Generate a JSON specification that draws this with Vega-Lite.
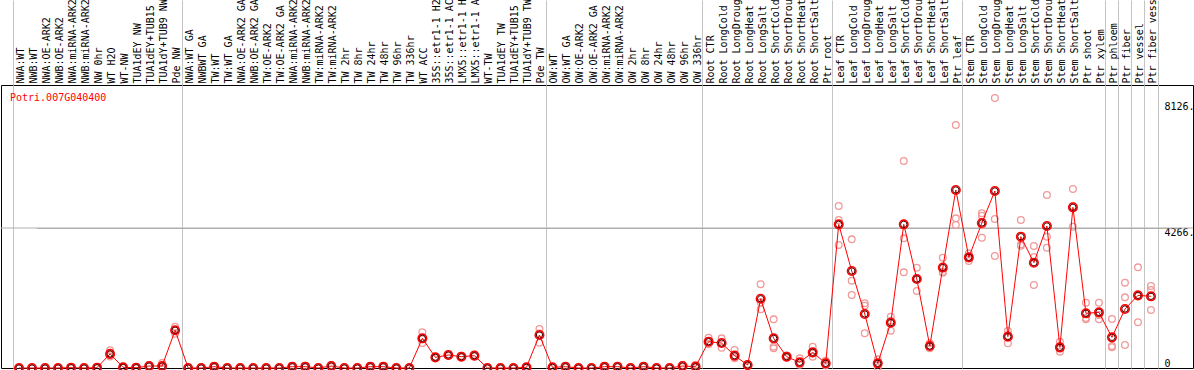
{
  "$schema": "https://vega.github.io/schema/vega-lite/v6.json",
  "width": 1192,
  "height": 283,
  "autosize": "none",
  "padding": {"left": 1, "top": 85, "right": 1, "bottom": 2},
  "background": "white",
  "title": {"text": "Potri.007G040400", "anchor": "start", "frame": "group", "color": "red", "font": "DejaVu Sans Mono", "fontSize": 10, "fontWeight": "normal", "baseline": "top", "offset": 0, "dx": 9, "dy": 104},
  "config": {"view": {"stroke": "black", "strokeWidth": 1}, "font": "DejaVu Sans Mono"},
  "datasets": {
    "means": [
      {"sample": "NWA:WT", "value": 0}, {"sample": "NWB:WT", "value": 0}, {"sample": "NWA:OE-ARK2", "value": 0}, {"sample": "NWB:OE-ARK2", "value": 0},
      {"sample": "NWA:miRNA-ARK2", "value": 10}, {"sample": "NWB:miRNA-ARK2", "value": 0}, {"sample": "NW 0hr", "value": 10}, {"sample": "WT H2O", "value": 430},
      {"sample": "WT-NW", "value": 20}, {"sample": "TUA1dEY NW", "value": 10}, {"sample": "TUA1dEY+TUB15 NW", "value": 60}, {"sample": "TUA1dY+TUB9 NW", "value": 60},
      {"sample": "Pde NW", "value": 1150}, {"sample": "NWA:WT GA", "value": 0}, {"sample": "NWBWT GA", "value": 0}, {"sample": "TW:WT", "value": 40},
      {"sample": "TW:WT GA", "value": 0}, {"sample": "NWA:OE-ARK2 GA", "value": 0}, {"sample": "NWB:OE-ARK2 GA", "value": 0}, {"sample": "TW:OE-ARK2", "value": 0},
      {"sample": "TW:OE-ARK2 GA", "value": 0}, {"sample": "NWA:miRNA-ARK2 GA", "value": 40}, {"sample": "NWB:miRNA-ARK2 GA", "value": 40}, {"sample": "TW:miRNA-ARK2", "value": 0},
      {"sample": "TW:miRNA-ARK2 GA", "value": 60}, {"sample": "TW 2hr", "value": 0}, {"sample": "TW 8hr", "value": 0}, {"sample": "TW 24hr", "value": 40},
      {"sample": "TW 48hr", "value": 40}, {"sample": "TW 96hr", "value": 0}, {"sample": "TW 336hr", "value": 0}, {"sample": "WT ACC", "value": 904},
      {"sample": "35S::etr1-1 H2O", "value": 325}, {"sample": "35S::etr1-1 ACC", "value": 396}, {"sample": "LMX5::etr1-1 H2O", "value": 345}, {"sample": "LMX5::etr1-1 ACC", "value": 376},
      {"sample": "WT-TW", "value": 0}, {"sample": "TUA1dEY TW", "value": 0}, {"sample": "TUA1dEY+TUB15 TW", "value": 0}, {"sample": "TUA1dY+TUB9 TW", "value": 20},
      {"sample": "Pde TW", "value": 1005}, {"sample": "OW:WT", "value": 20}, {"sample": "OW:WT GA", "value": 40}, {"sample": "OW:OE-ARK2", "value": 0},
      {"sample": "OW:OE-ARK2 GA", "value": 0}, {"sample": "OW:miRNA-ARK2", "value": 40}, {"sample": "OW:miRNA-ARK2 GA", "value": 40}, {"sample": "OW 2hr", "value": 0},
      {"sample": "OW 8hr", "value": 40}, {"sample": "OW 24hr", "value": 0}, {"sample": "OW 48hr", "value": 0}, {"sample": "OW 96hr", "value": 60},
      {"sample": "OW 336hr", "value": 40}, {"sample": "Root CTR", "value": 802}, {"sample": "Root LongCold", "value": 760}, {"sample": "Root LongDrought", "value": 376},
      {"sample": "Root LongHeat", "value": 91}, {"sample": "Root LongSalt", "value": 2110}, {"sample": "Root ShortCold", "value": 904}, {"sample": "Root ShortDrought", "value": 345},
      {"sample": "Root ShortHeat", "value": 173}, {"sample": "Root ShortSalt", "value": 477}, {"sample": "Ptr root", "value": 142}, {"sample": "Leaf CTR", "value": 4377},
      {"sample": "Leaf LongCold", "value": 2956}, {"sample": "Leaf LongDrought", "value": 1645}, {"sample": "Leaf LongHeat", "value": 142}, {"sample": "Leaf LongSalt", "value": 1381},
      {"sample": "Leaf ShortCold", "value": 4377}, {"sample": "Leaf ShortDrought", "value": 2712}, {"sample": "Leaf ShortHeat", "value": 670}, {"sample": "Leaf ShortSalt", "value": 3060},
      {"sample": "Ptr leaf", "value": 5424}, {"sample": "Stem CTR", "value": 3372}, {"sample": "Stem LongCold", "value": 4418}, {"sample": "Stem LongDrought", "value": 5393},
      {"sample": "Stem LongHeat", "value": 955}, {"sample": "Stem LongSalt", "value": 4001}, {"sample": "Stem ShortCold", "value": 3209}, {"sample": "Stem ShortDrought", "value": 4327},
      {"sample": "Stem ShortHeat", "value": 630}, {"sample": "Stem ShortSalt", "value": 4896}, {"sample": "Ptr shoot", "value": 1666}, {"sample": "Ptr xylem", "value": 1696},
      {"sample": "Ptr phloem", "value": 934}, {"sample": "Ptr fiber", "value": 1798}, {"sample": "Ptr vessel", "value": 2214}, {"sample": "Ptr fiber vessel", "value": 2184}
    ],
    "reps": [
      {"sample": "NWA:WT", "value": 0}, {"sample": "NWA:WT", "value": 0}, {"sample": "NWA:WT", "value": 0},
      {"sample": "NWB:WT", "value": 0}, {"sample": "NWB:WT", "value": 0}, {"sample": "NWB:WT", "value": 0},
      {"sample": "NWA:OE-ARK2", "value": 0}, {"sample": "NWA:OE-ARK2", "value": 0}, {"sample": "NWA:OE-ARK2", "value": 0},
      {"sample": "NWB:OE-ARK2", "value": 0}, {"sample": "NWB:OE-ARK2", "value": 10}, {"sample": "NWB:OE-ARK2", "value": 0},
      {"sample": "NWA:miRNA-ARK2", "value": 10}, {"sample": "NWA:miRNA-ARK2", "value": 20}, {"sample": "NWA:miRNA-ARK2", "value": 0},
      {"sample": "NWB:miRNA-ARK2", "value": 0}, {"sample": "NWB:miRNA-ARK2", "value": 0}, {"sample": "NWB:miRNA-ARK2", "value": 10},
      {"sample": "NW 0hr", "value": 10}, {"sample": "NW 0hr", "value": 0}, {"sample": "NW 0hr", "value": 20},
      {"sample": "WT H2O", "value": 540}, {"sample": "WT H2O", "value": 400}, {"sample": "WT H2O", "value": 350},
      {"sample": "WT-NW", "value": 20}, {"sample": "WT-NW", "value": 30}, {"sample": "WT-NW", "value": 10},
      {"sample": "TUA1dEY NW", "value": 10}, {"sample": "TUA1dEY NW", "value": 20}, {"sample": "TUA1dEY NW", "value": 0},
      {"sample": "TUA1dEY+TUB15 NW", "value": 60}, {"sample": "TUA1dEY+TUB15 NW", "value": 80}, {"sample": "TUA1dEY+TUB15 NW", "value": 40},
      {"sample": "TUA1dY+TUB9 NW", "value": 60}, {"sample": "TUA1dY+TUB9 NW", "value": 150}, {"sample": "TUA1dY+TUB9 NW", "value": 20},
      {"sample": "Pde NW", "value": 1260}, {"sample": "Pde NW", "value": 1150}, {"sample": "Pde NW", "value": 1040},
      {"sample": "NWA:WT GA", "value": 0}, {"sample": "NWA:WT GA", "value": 10}, {"sample": "NWA:WT GA", "value": 0},
      {"sample": "NWBWT GA", "value": 0}, {"sample": "NWBWT GA", "value": 0}, {"sample": "NWBWT GA", "value": 10},
      {"sample": "TW:WT", "value": 40}, {"sample": "TW:WT", "value": 60}, {"sample": "TW:WT", "value": 20},
      {"sample": "TW:WT GA", "value": 0}, {"sample": "TW:WT GA", "value": 10}, {"sample": "TW:WT GA", "value": 0},
      {"sample": "NWA:OE-ARK2 GA", "value": 0}, {"sample": "NWA:OE-ARK2 GA", "value": 0}, {"sample": "NWA:OE-ARK2 GA", "value": 10},
      {"sample": "NWB:OE-ARK2 GA", "value": 0}, {"sample": "NWB:OE-ARK2 GA", "value": 10}, {"sample": "NWB:OE-ARK2 GA", "value": 0},
      {"sample": "TW:OE-ARK2", "value": 0}, {"sample": "TW:OE-ARK2", "value": 0}, {"sample": "TW:OE-ARK2", "value": 10},
      {"sample": "TW:OE-ARK2 GA", "value": 0}, {"sample": "TW:OE-ARK2 GA", "value": 10}, {"sample": "TW:OE-ARK2 GA", "value": 0},
      {"sample": "NWA:miRNA-ARK2 GA", "value": 40}, {"sample": "NWA:miRNA-ARK2 GA", "value": 60}, {"sample": "NWA:miRNA-ARK2 GA", "value": 20},
      {"sample": "NWB:miRNA-ARK2 GA", "value": 40}, {"sample": "NWB:miRNA-ARK2 GA", "value": 70}, {"sample": "NWB:miRNA-ARK2 GA", "value": 20},
      {"sample": "TW:miRNA-ARK2", "value": 0}, {"sample": "TW:miRNA-ARK2", "value": 10}, {"sample": "TW:miRNA-ARK2", "value": 0},
      {"sample": "TW:miRNA-ARK2 GA", "value": 60}, {"sample": "TW:miRNA-ARK2 GA", "value": 90}, {"sample": "TW:miRNA-ARK2 GA", "value": 30},
      {"sample": "TW 2hr", "value": 0}, {"sample": "TW 2hr", "value": 0}, {"sample": "TW 2hr", "value": 10},
      {"sample": "TW 8hr", "value": 0}, {"sample": "TW 8hr", "value": 10}, {"sample": "TW 8hr", "value": 0},
      {"sample": "TW 24hr", "value": 40}, {"sample": "TW 24hr", "value": 60}, {"sample": "TW 24hr", "value": 20},
      {"sample": "TW 48hr", "value": 40}, {"sample": "TW 48hr", "value": 60}, {"sample": "TW 48hr", "value": 20},
      {"sample": "TW 96hr", "value": 0}, {"sample": "TW 96hr", "value": 10}, {"sample": "TW 96hr", "value": 0},
      {"sample": "TW 336hr", "value": 0}, {"sample": "TW 336hr", "value": 10}, {"sample": "TW 336hr", "value": 0},
      {"sample": "WT ACC", "value": 1088}, {"sample": "WT ACC", "value": 880}, {"sample": "WT ACC", "value": 760},
      {"sample": "35S::etr1-1 H2O", "value": 325}, {"sample": "35S::etr1-1 H2O", "value": 340}, {"sample": "35S::etr1-1 H2O", "value": 310},
      {"sample": "35S::etr1-1 ACC", "value": 396}, {"sample": "35S::etr1-1 ACC", "value": 420}, {"sample": "35S::etr1-1 ACC", "value": 370},
      {"sample": "LMX5::etr1-1 H2O", "value": 345}, {"sample": "LMX5::etr1-1 H2O", "value": 370}, {"sample": "LMX5::etr1-1 H2O", "value": 320},
      {"sample": "LMX5::etr1-1 ACC", "value": 376}, {"sample": "LMX5::etr1-1 ACC", "value": 400}, {"sample": "LMX5::etr1-1 ACC", "value": 350},
      {"sample": "WT-TW", "value": 0}, {"sample": "WT-TW", "value": 10}, {"sample": "WT-TW", "value": 0},
      {"sample": "TUA1dEY TW", "value": 0}, {"sample": "TUA1dEY TW", "value": 0}, {"sample": "TUA1dEY TW", "value": 10},
      {"sample": "TUA1dEY+TUB15 TW", "value": 0}, {"sample": "TUA1dEY+TUB15 TW", "value": 10}, {"sample": "TUA1dEY+TUB15 TW", "value": 0},
      {"sample": "TUA1dY+TUB9 TW", "value": 20}, {"sample": "TUA1dY+TUB9 TW", "value": 40}, {"sample": "TUA1dY+TUB9 TW", "value": 10},
      {"sample": "Pde TW", "value": 1188}, {"sample": "Pde TW", "value": 1050}, {"sample": "Pde TW", "value": 772},
      {"sample": "OW:WT", "value": 20}, {"sample": "OW:WT", "value": 40}, {"sample": "OW:WT", "value": 10},
      {"sample": "OW:WT GA", "value": 40}, {"sample": "OW:WT GA", "value": 60}, {"sample": "OW:WT GA", "value": 20},
      {"sample": "OW:OE-ARK2", "value": 0}, {"sample": "OW:OE-ARK2", "value": 10}, {"sample": "OW:OE-ARK2", "value": 0},
      {"sample": "OW:OE-ARK2 GA", "value": 0}, {"sample": "OW:OE-ARK2 GA", "value": 0}, {"sample": "OW:OE-ARK2 GA", "value": 10},
      {"sample": "OW:miRNA-ARK2", "value": 40}, {"sample": "OW:miRNA-ARK2", "value": 60}, {"sample": "OW:miRNA-ARK2", "value": 20},
      {"sample": "OW:miRNA-ARK2 GA", "value": 40}, {"sample": "OW:miRNA-ARK2 GA", "value": 50}, {"sample": "OW:miRNA-ARK2 GA", "value": 30},
      {"sample": "OW 2hr", "value": 0}, {"sample": "OW 2hr", "value": 10}, {"sample": "OW 2hr", "value": 0},
      {"sample": "OW 8hr", "value": 40}, {"sample": "OW 8hr", "value": 60}, {"sample": "OW 8hr", "value": 20},
      {"sample": "OW 24hr", "value": 0}, {"sample": "OW 24hr", "value": 10}, {"sample": "OW 24hr", "value": 0},
      {"sample": "OW 48hr", "value": 0}, {"sample": "OW 48hr", "value": 0}, {"sample": "OW 48hr", "value": 10},
      {"sample": "OW 96hr", "value": 60}, {"sample": "OW 96hr", "value": 90}, {"sample": "OW 96hr", "value": 30},
      {"sample": "OW 336hr", "value": 40}, {"sample": "OW 336hr", "value": 100}, {"sample": "OW 336hr", "value": 10},
      {"sample": "Root CTR", "value": 924}, {"sample": "Root CTR", "value": 802}, {"sample": "Root CTR", "value": 721},
      {"sample": "Root LongCold", "value": 904}, {"sample": "Root LongCold", "value": 752}, {"sample": "Root LongCold", "value": 619},
      {"sample": "Root LongDrought", "value": 548}, {"sample": "Root LongDrought", "value": 345}, {"sample": "Root LongDrought", "value": 294},
      {"sample": "Root LongHeat", "value": 91}, {"sample": "Root LongHeat", "value": 120}, {"sample": "Root LongHeat", "value": 60},
      {"sample": "Root LongSalt", "value": 2550}, {"sample": "Root LongSalt", "value": 2000}, {"sample": "Root LongSalt", "value": 1787},
      {"sample": "Root ShortCold", "value": 1483}, {"sample": "Root ShortCold", "value": 650}, {"sample": "Root ShortCold", "value": 599},
      {"sample": "Root ShortDrought", "value": 345}, {"sample": "Root ShortDrought", "value": 380}, {"sample": "Root ShortDrought", "value": 310},
      {"sample": "Root ShortHeat", "value": 294}, {"sample": "Root ShortHeat", "value": 120}, {"sample": "Root ShortHeat", "value": 100},
      {"sample": "Root ShortSalt", "value": 650}, {"sample": "Root ShortSalt", "value": 440}, {"sample": "Root ShortSalt", "value": 345},
      {"sample": "Ptr root", "value": 223}, {"sample": "Ptr root", "value": 120}, {"sample": "Ptr root", "value": 80},
      {"sample": "Leaf CTR", "value": 4936}, {"sample": "Leaf CTR", "value": 4510}, {"sample": "Leaf CTR", "value": 3748},
      {"sample": "Leaf LongCold", "value": 3920}, {"sample": "Leaf LongCold", "value": 2661}, {"sample": "Leaf LongCold", "value": 2224},
      {"sample": "Leaf LongDrought", "value": 1971}, {"sample": "Leaf LongDrought", "value": 1900}, {"sample": "Leaf LongDrought", "value": 1057},
      {"sample": "Leaf LongHeat", "value": 264}, {"sample": "Leaf LongHeat", "value": 142}, {"sample": "Leaf LongHeat", "value": 20},
      {"sample": "Leaf LongSalt", "value": 1564}, {"sample": "Leaf LongSalt", "value": 1440}, {"sample": "Leaf LongSalt", "value": 1138},
      {"sample": "Leaf ShortCold", "value": 6307}, {"sample": "Leaf ShortCold", "value": 3951}, {"sample": "Leaf ShortCold", "value": 2915},
      {"sample": "Leaf ShortDrought", "value": 3057}, {"sample": "Leaf ShortDrought", "value": 2712}, {"sample": "Leaf ShortDrought", "value": 2346},
      {"sample": "Leaf ShortHeat", "value": 752}, {"sample": "Leaf ShortHeat", "value": 660}, {"sample": "Leaf ShortHeat", "value": 599},
      {"sample": "Leaf ShortSalt", "value": 3362}, {"sample": "Leaf ShortSalt", "value": 2935}, {"sample": "Leaf ShortSalt", "value": 2900},
      {"sample": "Ptr leaf", "value": 7404}, {"sample": "Ptr leaf", "value": 4560}, {"sample": "Ptr leaf", "value": 4357},
      {"sample": "Stem CTR", "value": 3494}, {"sample": "Stem CTR", "value": 3372}, {"sample": "Stem CTR", "value": 3260},
      {"sample": "Stem LongCold", "value": 4713}, {"sample": "Stem LongCold", "value": 4641}, {"sample": "Stem LongCold", "value": 3971}, {"sample": "Stem LongCold", "value": 4350},
      {"sample": "Stem LongDrought", "value": 8227}, {"sample": "Stem LongDrought", "value": 4540}, {"sample": "Stem LongDrought", "value": 3413},
      {"sample": "Stem LongHeat", "value": 1127}, {"sample": "Stem LongHeat", "value": 985}, {"sample": "Stem LongHeat", "value": 752},
      {"sample": "Stem LongSalt", "value": 4510}, {"sample": "Stem LongSalt", "value": 3727}, {"sample": "Stem LongSalt", "value": 3766},
      {"sample": "Stem ShortCold", "value": 3717}, {"sample": "Stem ShortCold", "value": 3380}, {"sample": "Stem ShortCold", "value": 2529},
      {"sample": "Stem ShortDrought", "value": 5271}, {"sample": "Stem ShortDrought", "value": 4001}, {"sample": "Stem ShortDrought", "value": 3666},
      {"sample": "Stem ShortHeat", "value": 802}, {"sample": "Stem ShortHeat", "value": 590}, {"sample": "Stem ShortHeat", "value": 498},
      {"sample": "Stem ShortSalt", "value": 5454}, {"sample": "Stem ShortSalt", "value": 4930}, {"sample": "Stem ShortSalt", "value": 4306},
      {"sample": "Ptr shoot", "value": 1990}, {"sample": "Ptr shoot", "value": 1525}, {"sample": "Ptr shoot", "value": 1483},
      {"sample": "Ptr xylem", "value": 1990}, {"sample": "Ptr xylem", "value": 1615}, {"sample": "Ptr xylem", "value": 1483},
      {"sample": "Ptr phloem", "value": 1493}, {"sample": "Ptr phloem", "value": 670}, {"sample": "Ptr phloem", "value": 630},
      {"sample": "Ptr fiber", "value": 2600}, {"sample": "Ptr fiber", "value": 2153}, {"sample": "Ptr fiber", "value": 700},
      {"sample": "Ptr vessel", "value": 3067}, {"sample": "Ptr vessel", "value": 2190}, {"sample": "Ptr vessel", "value": 1392},
      {"sample": "Ptr fiber vessel", "value": 2498}, {"sample": "Ptr fiber vessel", "value": 2376}, {"sample": "Ptr fiber vessel", "value": 1767}
    ]
  },
  "layer": [
    {
      "data": {"values": [{"line": "grid"}]},
      "mark": {"type": "rule", "color": "#b0b0b0", "strokeWidth": 1},
      "encoding": {"y": {"datum": 4266, "type": "quantitative"}}
    },
    {
      "encoding": {
        "x": {
          "field": "sample", "type": "nominal", "sort": null,
          "scale": {"type": "band", "range": [11.5, 1156.5], "paddingInner": 0, "paddingOuter": 0},
          "axis": {
            "orient": "top", "title": null, "domain": false,
            "ticks": true, "tickBand": "extent", "tickSize": 85, "tickOffset": -1.5, "labelOffset": 1.5, "tickWidth": 1,
            "tickColor": {"condition": {"test": "datum.extra || indexof(['Pde NW','Pde TW','OW 336hr','Ptr root','Ptr leaf','Ptr xylem','Ptr phloem','Ptr fiber','Ptr vessel','Ptr fiber vessel'], datum.value) >= 0", "value": "#c4c4c4"}, "value": "transparent"},
            "grid": true, "gridWidth": 1,
            "gridColor": {"condition": {"test": "datum.extra || indexof(['Pde NW','Pde TW','OW 336hr','Ptr root','Ptr leaf','Ptr xylem','Ptr phloem','Ptr fiber','Ptr vessel','Ptr fiber vessel'], datum.value) >= 0", "value": "#c4c4c4"}, "value": "transparent"},
            "labelAngle": 270, "labelAlign": "left", "labelBaseline": "middle", "labelPadding": -83,
            "labelFont": "DejaVu Sans Mono", "labelFontSize": 10, "labelColor": "black",
            "labelOverlap": false, "labelBound": false, "labelLimit": 0,
            "labelExpr": "substring(datum.label, 0, 14)"
          }
        },
        "y": {
          "field": "value", "type": "quantitative",
          "scale": {"domain": [0, 8623], "nice": false},
          "axis": {
            "orient": "right", "offset": 0, "title": null, "domain": false, "ticks": false, "tickSize": 0, "labelPadding": -29,
            "values": [0, 4266, 8126],
            "labelExpr": "datum.value == 0 ? '0' : datum.value + '.'",
            "labelAlign": "left",
            "labelBaseline": {"condition": {"test": "datum.value == 0", "value": "bottom"}, "value": "top"},
            "labelFont": "DejaVu Sans Mono", "labelFontSize": 10, "labelColor": "black",
            "grid": true, "gridWidth": 1,
            "gridColor": {"condition": {"test": "datum.value == 4266", "value": "#b0b0b0"}, "value": "transparent"}
          }
        }
      },
      "layer": [
        {"data": {"name": "reps"}, "mark": {"type": "point", "shape": "circle", "filled": false, "stroke": "#f09a9a", "strokeWidth": 1.3, "size": 45, "opacity": 1}},
        {"data": {"name": "means"}, "mark": {"type": "line", "color": "#ff0000", "strokeWidth": 1}},
        {"data": {"name": "means"}, "mark": {"type": "point", "shape": "circle", "filled": false, "stroke": "#ff0000", "strokeWidth": 1.6, "size": 72, "opacity": 1}},
        {"data": {"name": "means"}, "mark": {"type": "point", "shape": "circle", "filled": false, "stroke": "#500000", "strokeWidth": 1, "size": 40, "opacity": 1}}
      ]
    }
  ]
}
